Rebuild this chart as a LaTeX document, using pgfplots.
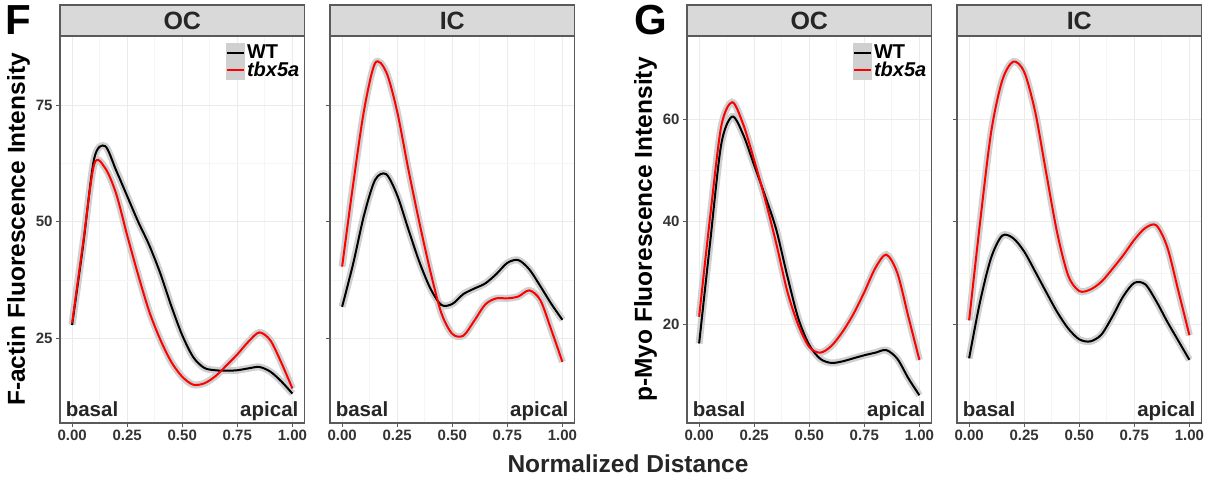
\documentclass[border=0pt]{standalone}
\usepackage{fontspec}
\setmainfont{Liberation Sans}
\usepackage{pgfplots}
\usepackage{pgfplotstable}
\pgfplotsset{compat=1.18}

\definecolor{stripgray}{HTML}{D9D9D9}
\definecolor{framec}{HTML}{5A5A5A}
\definecolor{gridmaj}{HTML}{EBEBEB}
\definecolor{gridmin}{HTML}{F5F5F5}
\definecolor{ribbon}{HTML}{D0D0D0}
\definecolor{ggred}{HTML}{FF0000}

% F panel, outer curvature (OC)
\pgfplotstableread{
x y
0 27.9
0.05 45
0.1 63.5
0.15 66.2
0.2 61
0.25 55.5
0.3 50
0.35 45
0.4 39
0.45 32
0.5 25.7
0.55 21
0.6 18.7
0.65 18.2
0.7 18.1
0.75 18.2
0.8 18.6
0.85 18.9
0.9 17.9
0.95 15.8
1 13.2
}\focwt
\pgfplotstableread{
x y
0 28.3
0.05 45.5
0.1 62.3
0.15 61.5
0.2 56
0.25 47.1
0.3 38.6
0.35 30.8
0.4 24.8
0.45 20
0.5 16.8
0.55 15.1
0.6 15.4
0.65 16.9
0.7 19.2
0.75 21.6
0.8 24.3
0.85 26.3
0.9 24.6
0.95 19.8
1 14.3
}\focko
% F panel, inner curvature (IC)
\pgfplotstableread{
x y
0 31.8
0.05 41
0.1 51.5
0.15 59
0.2 60.2
0.25 55.7
0.3 48.5
0.35 41.5
0.4 35.8
0.45 32.2
0.5 32.4
0.55 34.5
0.6 35.7
0.65 36.8
0.7 38.8
0.75 41.2
0.8 41.8
0.85 39.8
0.9 36.2
0.95 32.4
1 29
}\ficwt
\pgfplotstableread{
x y
0 40.4
0.05 58
0.1 74
0.15 84
0.2 82.1
0.25 73.6
0.3 61.4
0.35 50
0.4 39.5
0.45 30.5
0.5 26
0.55 25.6
0.6 28.8
0.65 32.3
0.7 33.6
0.75 33.6
0.8 34
0.85 35.3
0.9 33.2
0.95 26.8
1 20
}\ficko
% G panel, OC
\pgfplotstableread{
x y
0 16.3
0.05 36
0.1 55
0.15 60.5
0.2 57
0.25 51
0.3 45
0.35 38.5
0.4 29.5
0.45 21.2
0.5 16
0.55 13.3
0.6 12.5
0.65 12.8
0.7 13.4
0.75 14
0.8 14.5
0.85 15
0.9 13.3
0.95 9.5
1 6.2
}\gocwt
\pgfplotstableread{
x y
0 21.5
0.05 41
0.1 58.5
0.15 63.3
0.2 59
0.25 52
0.3 44.3
0.35 35.8
0.4 26.5
0.45 19.9
0.5 15.6
0.55 14.5
0.6 15.8
0.65 18.5
0.7 22
0.75 26.3
0.8 31
0.85 33.6
0.9 30
0.95 21.5
1 13.1
}\gocko
% G panel, IC
\pgfplotstableread{
x y
0 13.4
0.05 24.5
0.1 33
0.15 37.3
0.2 36.8
0.25 34.2
0.3 30.3
0.35 26.3
0.4 22.4
0.45 19.2
0.5 17.1
0.55 16.7
0.6 18
0.65 21.5
0.7 25.5
0.75 28.1
0.8 27.8
0.85 24.5
0.9 20.5
0.95 16.8
1 13.1
}\gicwt
\pgfplotstableread{
x y
0 20.8
0.05 40
0.1 57.5
0.15 67.5
0.2 71.2
0.25 69.2
0.3 61.4
0.35 49.5
0.4 37.8
0.45 29.5
0.5 26.5
0.55 26.8
0.6 28.3
0.65 30.8
0.7 33.5
0.75 36.5
0.8 38.8
0.85 39.3
0.9 35
0.95 26.5
1 17.9
}\gicko

\pgfplotsset{
  panel/.style={
    scale only axis, width=244.5pt, height=387pt, anchor=south west,
    xmin=-0.055, xmax=1.055,
    xtick={0,0.25,0.5,0.75,1}, xticklabels={0.00,0.25,0.50,0.75,1.00},
    minor x tick num=1, minor y tick num=1,
    grid=both,
    major grid style={gridmaj, line width=1pt},
    minor grid style={gridmin, line width=0.8pt},
    axis line style={framec, line width=1.3pt},
    tick style={framec, line width=1pt},
    tick align=outside, major tick length=4pt, minor tick length=0pt,
    xtick pos=lower, ytick pos=left,
    /pgf/number format/assume math mode=true,
    tick label style={font=\bfseries\fontsize{15}{15}\selectfont, text=black!80},
    xticklabel style={yshift=1pt},
    legend style={draw=none, fill=none, at={(1,1)}, anchor=north east,
      xshift=-3pt, yshift=-7pt, font=\bfseries\fontsize{20}{20}\selectfont,
      row sep=-2pt, inner sep=0pt},
    legend cell align=left,
    legend image code/.code={
      \fill[ribbon] (0pt,-8.5pt) rectangle (17pt,8.5pt);
      \draw[##1] (0pt,0pt) -- (17pt,0pt);},
    ylabel style={at={(axis description cs:-0.17,0.5)}, anchor=center,
      font=\bfseries\fontsize{24.5}{24.5}\selectfont},
  },
  fpanel/.style={panel, ymin=6.9, ymax=89.8, ytick={25,50,75}},
  gpanel/.style={panel, ymin=0.8, ymax=76.2, ytick={20,40,60}},
  rib/.style={ribbon, line width=7pt, forget plot, smooth, tension=0.5},
  wt/.style={black, line width=2pt, smooth, tension=0.5},
  ko/.style={ggred, line width=2pt, smooth, tension=0.5},
}
\tikzset{lab/.style={font=\bfseries\fontsize{20.5}{20.5}\selectfont, text=black!85, anchor=base}}

\newcommand{\striplab}[2]{%
  \draw[fill=stripgray, draw=framec, line width=1.3pt]
    (#1.north west) rectangle ([yshift=31pt]#1.north east);
  \node[font=\bfseries\fontsize{25}{25}\selectfont, text=black!85]
    at ([yshift=15.5pt]#1.north) {#2};}

\begin{document}
\begin{tikzpicture}
\useasboundingbox (0pt,0pt) rectangle (1214pt,481pt);

% ---------- F ----------
\begin{axis}[fpanel, name=foc, at={(60pt,58pt)},
  ylabel={F-actin Fluorescence Intensity}]
\addplot[rib] table {\focwt};
\addplot[rib] table {\focko};
\addplot[wt] table {\focwt};
\addplot[ko] table {\focko};
\legend{WT, \textit{tbx5a}}
\node[lab] at (rel axis cs:0.131,0.016) {basal};
\node[lab] at (rel axis cs:0.856,0.016) {apical};
\end{axis}
\striplab{foc}{OC}

\begin{axis}[fpanel, name=fic, at={(330pt,58pt)}, yticklabels={}]
\addplot[rib] table {\ficwt};
\addplot[rib] table {\ficko};
\addplot[wt] table {\ficwt};
\addplot[ko] table {\ficko};
\node[lab] at (rel axis cs:0.131,0.016) {basal};
\node[lab] at (rel axis cs:0.856,0.016) {apical};
\end{axis}
\striplab{fic}{IC}

% ---------- G ----------
\begin{axis}[gpanel, name=goc, at={(687pt,58pt)},
  ylabel={p-Myo Fluorescence Intensity}]
\addplot[rib] table {\gocwt};
\addplot[rib] table {\gocko};
\addplot[wt] table {\gocwt};
\addplot[ko] table {\gocko};
\legend{WT, \textit{tbx5a}}
\node[lab] at (rel axis cs:0.131,0.016) {basal};
\node[lab] at (rel axis cs:0.856,0.016) {apical};
\end{axis}
\striplab{goc}{OC}

\begin{axis}[gpanel, name=gic, at={(957pt,58pt)}, yticklabels={}]
\addplot[rib] table {\gicwt};
\addplot[rib] table {\gicko};
\addplot[wt] table {\gicwt};
\addplot[ko] table {\gicko};
\node[lab] at (rel axis cs:0.131,0.016) {basal};
\node[lab] at (rel axis cs:0.856,0.016) {apical};
\end{axis}
\striplab{gic}{IC}

\node[font=\bfseries\fontsize{42}{42}\selectfont] at (18.5pt,460.5pt) {F};
\node[font=\bfseries\fontsize{42}{42}\selectfont] at (651pt,460.5pt) {G};
\node[font=\bfseries\fontsize{24.5}{24.5}\selectfont, text=black!85] at (628pt,17pt) {Normalized Distance};
\end{tikzpicture}
\end{document}
